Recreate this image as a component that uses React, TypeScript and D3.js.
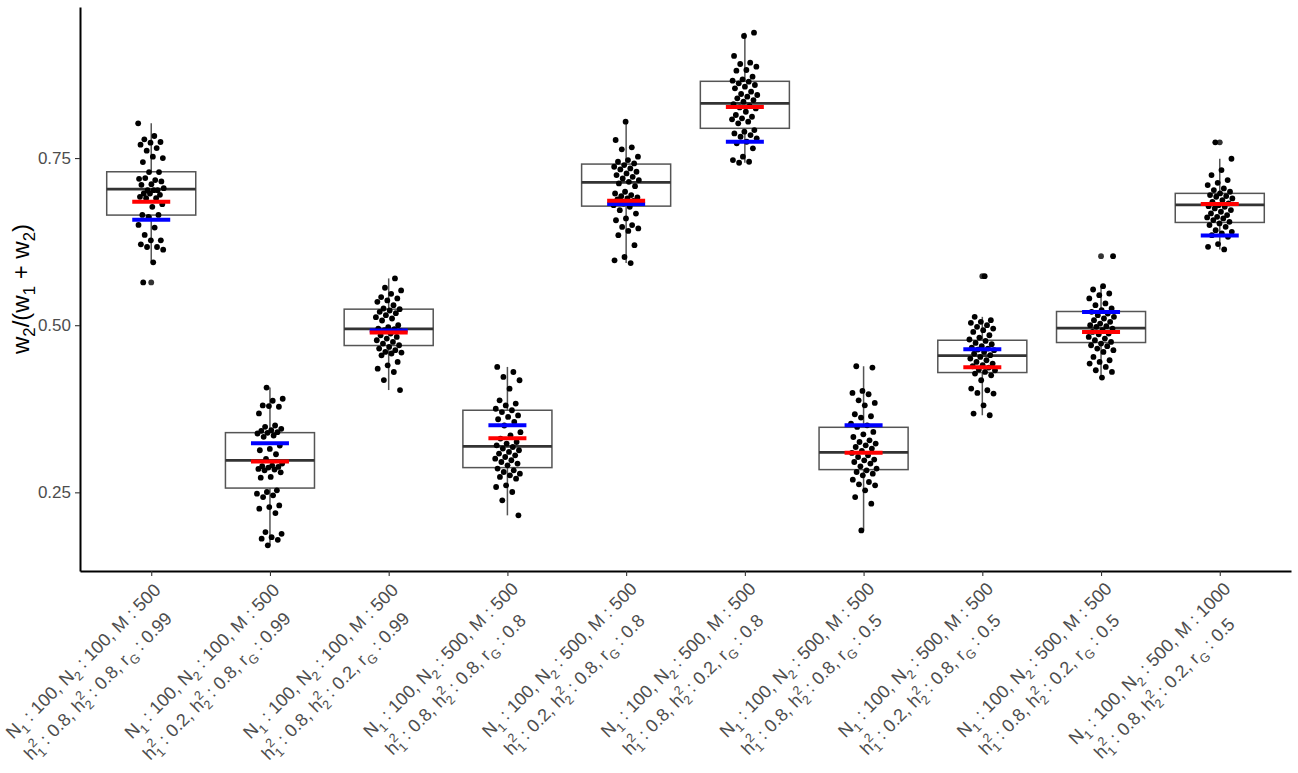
import React, { useEffect, useRef } from "react";
import * as d3 from "d3";

// Scenario descriptors shown on the x axis (two lines per scenario)
const n1 = [100, 100, 100, 100, 100, 100, 100, 100, 100, 100];
const n2 = [100, 100, 100, 500, 500, 500, 500, 500, 500, 500];
const mSize = [500, 500, 500, 500, 500, 500, 500, 500, 500, 1000];
const h1sq = ["0.8", "0.2", "0.8", "0.8", "0.2", "0.8", "0.8", "0.2", "0.8", "0.8"];
const h2sq = ["0.8", "0.8", "0.2", "0.8", "0.8", "0.2", "0.8", "0.8", "0.2", "0.2"];
const rG = ["0.99", "0.99", "0.99", "0.8", "0.8", "0.8", "0.5", "0.5", "0.5", "0.5"];

// Replicate estimates of w2/(w1+w2) per scenario
const pts1 = [0.802, 0.783, 0.778, 0.774, 0.773, 0.77, 0.765, 0.761, 0.75, 0.752, 0.744, 0.729, 0.729, 0.719, 0.717, 0.72, 0.715, 0.711, 0.71, 0.702, 0.702, 0.705, 0.702, 0.697, 0.695, 0.697, 0.692, 0.69, 0.69, 0.681, 0.677, 0.665, 0.665, 0.662, 0.65, 0.646, 0.635, 0.627, 0.627, 0.621, 0.617, 0.617, 0.613, 0.594, 0.564];
const pts2 = [0.4067, 0.39, 0.387, 0.38, 0.378, 0.379, 0.368, 0.35, 0.348, 0.345, 0.343, 0.342, 0.34, 0.339, 0.338, 0.335, 0.333, 0.32, 0.315, 0.313, 0.307, 0.3, 0.293, 0.29, 0.289, 0.288, 0.287, 0.285, 0.284, 0.283, 0.28, 0.273, 0.272, 0.253, 0.2505, 0.248, 0.2455, 0.243, 0.2305, 0.228, 0.2256, 0.219, 0.1906, 0.188, 0.183, 0.1807, 0.179, 0.1707];
const pts3 = [0.57, 0.556, 0.552, 0.547, 0.542, 0.54, 0.537, 0.535, 0.53, 0.525, 0.524, 0.522, 0.52, 0.518, 0.515, 0.512, 0.51, 0.507, 0.5, 0.497, 0.495, 0.494, 0.4925, 0.491, 0.4875, 0.485, 0.4825, 0.48, 0.4775, 0.475, 0.4725, 0.47, 0.4675, 0.465, 0.4626, 0.46, 0.459, 0.4577, 0.455, 0.445, 0.44, 0.435, 0.43, 0.418, 0.403];
const pts4 = [0.4376, 0.43, 0.4226, 0.4177, 0.405, 0.3877, 0.3828, 0.38, 0.375, 0.3728, 0.37, 0.365, 0.3628, 0.3593, 0.3553, 0.35, 0.34, 0.3353, 0.3304, 0.3253, 0.323, 0.3204, 0.3178, 0.3154, 0.313, 0.3104, 0.308, 0.3054, 0.3029, 0.3004, 0.298, 0.2954, 0.293, 0.2904, 0.2855, 0.283, 0.2804, 0.278, 0.2754, 0.273, 0.2705, 0.2605, 0.258, 0.2505, 0.238, 0.2156];
const pts5 = [0.8044, 0.777, 0.766, 0.763, 0.752, 0.747, 0.7445, 0.742, 0.7395, 0.737, 0.7345, 0.733, 0.7295, 0.727, 0.7245, 0.722, 0.7195, 0.717, 0.7145, 0.712, 0.708, 0.6996, 0.697, 0.6946, 0.693, 0.691, 0.6896, 0.688, 0.686, 0.682, 0.6796, 0.677, 0.672, 0.667, 0.6597, 0.657, 0.6497, 0.647, 0.6447, 0.641, 0.6347, 0.6197, 0.602, 0.597, 0.593];
const pts6 = [0.9376, 0.9326, 0.9027, 0.8927, 0.8907, 0.8867, 0.8817, 0.8807, 0.8717, 0.8678, 0.8657, 0.8642, 0.8618, 0.8593, 0.8568, 0.8543, 0.8493, 0.8458, 0.8443, 0.8418, 0.8393, 0.8368, 0.8343, 0.8308, 0.8278, 0.8258, 0.8243, 0.8193, 0.8144, 0.8118, 0.8094, 0.8079, 0.8044, 0.8019, 0.7919, 0.7894, 0.7869, 0.7844, 0.7819, 0.7795, 0.7744, 0.772, 0.7645, 0.752, 0.747, 0.7445, 0.743];
const pts7 = [0.4386, 0.4366, 0.4017, 0.3987, 0.3967, 0.3877, 0.3837, 0.3802, 0.3668, 0.3638, 0.3618, 0.3528, 0.3503, 0.3478, 0.3403, 0.3368, 0.3328, 0.3278, 0.3253, 0.3229, 0.3204, 0.3178, 0.3154, 0.3119, 0.3089, 0.3054, 0.3029, 0.299, 0.2979, 0.2954, 0.293, 0.2889, 0.2855, 0.2829, 0.2804, 0.278, 0.2754, 0.269, 0.2655, 0.262, 0.2605, 0.253, 0.243, 0.233, 0.1931];
const pts8 = [0.5734, 0.5125, 0.5075, 0.505, 0.5035, 0.5, 0.4975, 0.495, 0.4925, 0.49, 0.485, 0.4815, 0.4786, 0.4765, 0.4735, 0.4716, 0.4686, 0.4666, 0.4651, 0.4636, 0.4626, 0.46, 0.4576, 0.4551, 0.4526, 0.4501, 0.4476, 0.4451, 0.4426, 0.4401, 0.4386, 0.4366, 0.4336, 0.4326, 0.4301, 0.4277, 0.4251, 0.4177, 0.4052, 0.4027, 0.3987, 0.3977, 0.3802, 0.3678, 0.3653];
const pts9 = [0.6033, 0.5584, 0.5534, 0.5474, 0.5449, 0.54, 0.5325, 0.53, 0.525, 0.5225, 0.52, 0.5175, 0.515, 0.5125, 0.51, 0.5075, 0.505, 0.5025, 0.5, 0.4985, 0.4975, 0.495, 0.4925, 0.49, 0.4875, 0.4865, 0.4825, 0.48, 0.4775, 0.475, 0.4725, 0.47, 0.4686, 0.4651, 0.4626, 0.46, 0.4526, 0.4476, 0.4451, 0.4426, 0.4376, 0.4326, 0.4301, 0.4217];
const pts10 = [0.7735, 0.749, 0.732, 0.7245, 0.717, 0.713, 0.7096, 0.7046, 0.7021, 0.6996, 0.6971, 0.6946, 0.6931, 0.6921, 0.6896, 0.6871, 0.6846, 0.6822, 0.6796, 0.6781, 0.6771, 0.6747, 0.6722, 0.6697, 0.6672, 0.6647, 0.6621, 0.6612, 0.6597, 0.6572, 0.6547, 0.6522, 0.6497, 0.6472, 0.6422, 0.6397, 0.6373, 0.6347, 0.6322, 0.6213, 0.6172, 0.6133];

// Box summaries per scenario
const q1 = [0.6647, 0.2564, 0.4696, 0.287, 0.6781, 0.7945, 0.284, 0.4292, 0.4741, 0.6537];
const med = [0.7036, 0.2979, 0.4945, 0.3189, 0.7136, 0.8319, 0.3099, 0.4546, 0.4955, 0.6801];
const q3 = [0.7295, 0.3393, 0.524, 0.3728, 0.741, 0.8648, 0.3473, 0.4775, 0.5205, 0.6972];

// Reference values marked with coloured bars
const redRef = [0.6846, 0.296, 0.4891, 0.3308, 0.6861, 0.8263, 0.3094, 0.4371, 0.49, 0.6811];
const blueRef = [0.6576, 0.3234, 0.4921, 0.3503, 0.6811, 0.7744, 0.3503, 0.4641, 0.5199, 0.6343];

const yTicks = [0.25, 0.5, 0.75];

const W = 1298;
const H = 773;
const FONT = "'Liberation Sans', Arial, Helvetica, sans-serif";

export default function App() {
  const ref = useRef<SVGSVGElement | null>(null);

  useEffect(() => {
    const svg = d3.select(ref.current);
    svg.selectAll("*").remove();

    const groups = [pts1, pts2, pts3, pts4, pts5, pts6, pts7, pts8, pts9, pts10];
    const left = 80, right = 1291, top = 7, bottom = 571;

    const x = d3.scaleLinear().domain([0.4, groups.length + 0.6]).range([left, right]);
    const all = groups.flat();
    const [mn, mx] = d3.extent(all) as [number, number];
    const pad = (mx - mn) * 0.05;
    const y = d3.scaleLinear().domain([mn - pad, mx + pad]).range([bottom, top]);

    const boxHalf = 0.375;
    const refHalf = 0.16;
    const jitterHalf = 0.11;
    const boxStroke = "#555555";
    const dotR = 2.9;

    const plot = svg.append("g");

    groups.forEach((vals, gi) => {
      const cx = gi + 1;
      const iqr = q3[gi] - q1[gi];
      const loFence = q1[gi] - 1.5 * iqr;
      const hiFence = q3[gi] + 1.5 * iqr;
      const inside = vals.filter((v) => v >= loFence && v <= hiFence);
      const wLo = d3.min(inside) as number;
      const wHi = d3.max(inside) as number;
      const outliers = vals.filter((v) => v < loFence || v > hiFence);

      const g = plot.append("g");
      // whiskers
      g.append("line")
        .attr("x1", x(cx)).attr("x2", x(cx))
        .attr("y1", y(q3[gi])).attr("y2", y(wHi))
        .attr("stroke", boxStroke).attr("stroke-width", 1.5);
      g.append("line")
        .attr("x1", x(cx)).attr("x2", x(cx))
        .attr("y1", y(q1[gi])).attr("y2", y(wLo))
        .attr("stroke", boxStroke).attr("stroke-width", 1.5);
      // box
      g.append("rect")
        .attr("x", x(cx - boxHalf))
        .attr("width", x(cx + boxHalf) - x(cx - boxHalf))
        .attr("y", y(q3[gi]))
        .attr("height", y(q1[gi]) - y(q3[gi]))
        .attr("fill", "white")
        .attr("stroke", boxStroke)
        .attr("stroke-width", 1.5);
      // median
      g.append("line")
        .attr("x1", x(cx - boxHalf)).attr("x2", x(cx + boxHalf))
        .attr("y1", y(med[gi])).attr("y2", y(med[gi]))
        .attr("stroke", "#333333").attr("stroke-width", 2.8);
      // boxplot outliers at the box centre
      g.selectAll("circle.out")
        .data(outliers)
        .join("circle")
        .attr("class", "out")
        .attr("cx", x(cx))
        .attr("cy", (v) => y(v))
        .attr("r", dotR)
        .attr("fill", "#333333");
      // jittered replicate points (low-discrepancy offsets)
      g.selectAll("circle.pt")
        .data(vals)
        .join("circle")
        .attr("class", "pt")
        .attr("cx", (_v, i) => {
          const u = ((i * 0.6180339887 + gi * 0.37) % 1) - 0.5;
          return x(cx + u * 2 * jitterHalf);
        })
        .attr("cy", (v) => y(v))
        .attr("r", dotR)
        .attr("fill", "black");
      // reference bars
      g.append("line")
        .attr("x1", x(cx - refHalf)).attr("x2", x(cx + refHalf))
        .attr("y1", y(blueRef[gi])).attr("y2", y(blueRef[gi]))
        .attr("stroke", "#0000ff").attr("stroke-width", 4);
      g.append("line")
        .attr("x1", x(cx - refHalf)).attr("x2", x(cx + refHalf))
        .attr("y1", y(redRef[gi])).attr("y2", y(redRef[gi]))
        .attr("stroke", "#ff0000").attr("stroke-width", 4);
    });

    // y axis
    const yAxis = svg.append("g")
      .attr("transform", `translate(${left},0)`)
      .call(
        d3.axisLeft(y)
          .tickValues(yTicks)
          .tickFormat(d3.format(".2f"))
          .tickSize(5)
          .tickSizeOuter(0)
          .tickPadding(4)
      );
    yAxis.select(".domain").attr("stroke", "black").attr("stroke-width", 2);
    yAxis.selectAll(".tick line").attr("stroke", "#333333").attr("stroke-width", 1.1);
    yAxis.selectAll(".tick text")
      .attr("fill", "#4d4d4d")
      .style("font-family", FONT)
      .style("font-size", "17px");

    // x axis
    const xAxis = svg.append("g")
      .attr("transform", `translate(0,${bottom})`)
      .call(
        d3.axisBottom(x)
          .tickValues(d3.range(1, groups.length + 1))
          .tickFormat(() => "")
          .tickSize(5)
          .tickSizeOuter(0)
      );
    xAxis.select(".domain").attr("stroke", "black").attr("stroke-width", 2);
    xAxis.selectAll(".tick line").attr("stroke", "#333333").attr("stroke-width", 1.1);

    // rotated two-line scenario labels
    const fs = 18;
    const small = fs * 0.7;
    const subDy = fs * 0.3;
    const oneW = 0.556 * small;
    const lineGap = 28;
    groups.forEach((_vals, gi) => {
      const lg = svg.append("g")
        .attr("transform", `translate(${x(gi + 1) + 2},${bottom + 9}) rotate(-45)`)
        .style("font-family", FONT)
        .style("font-size", `${fs}px`)
        .attr("fill", "#4d4d4d");

      const t1 = lg.append("text").attr("y", 14);
      const addSubbed = (t: any, base: string, sub: string, rest: string) => {
        t.append("tspan").text(base);
        t.append("tspan").attr("dy", subDy).style("font-size", `${small}px`).text(sub);
        t.append("tspan").attr("dy", -subDy).text(rest);
      };
      addSubbed(t1, "N", "1", ` : ${n1[gi]}, `);
      addSubbed(t1, "N", "2", ` : ${n2[gi]}, `);
      t1.append("tspan").text(`M : ${mSize[gi]}`);

      const t2 = lg.append("text").attr("y", 14 + lineGap);
      const addSubSup = (t: any, base: string, sub: string, sup: string, rest: string) => {
        t.append("tspan").text(base);
        t.append("tspan").attr("dy", subDy).style("font-size", `${small}px`).text(sub);
        t.append("tspan").attr("dx", -oneW).attr("dy", -subDy - fs * 0.45).style("font-size", `${small}px`).text(sup);
        t.append("tspan").attr("dy", fs * 0.45).text(rest);
      };
      addSubSup(t2, "h", "1", "2", ` : ${h1sq[gi]}, `);
      addSubSup(t2, "h", "2", "2", ` : ${h2sq[gi]}, `);
      addSubbed(t2, "r", "G", ` : ${rG[gi]}`);

      const w1 = (t1.node() as SVGTextElement).getComputedTextLength();
      const w2 = (t2.node() as SVGTextElement).getComputedTextLength();
      const wMax = Math.max(w1, w2);
      t1.attr("x", -wMax / 2 - w1 / 2);
      t2.attr("x", -wMax / 2 - w2 / 2);
    });

    // y axis title
    const tf = 24;
    const yt = svg.append("text")
      .attr("transform", `translate(29,${(top + bottom) / 2}) rotate(-90)`)
      .attr("text-anchor", "middle")
      .attr("fill", "black")
      .style("font-family", FONT)
      .style("font-size", `${tf}px`);
    const ts = tf * 0.7;
    const sd = tf * 0.25;
    yt.append("tspan").text("w");
    yt.append("tspan").attr("dy", sd).style("font-size", `${ts}px`).text("2");
    yt.append("tspan").attr("dy", -sd).text("/(w");
    yt.append("tspan").attr("dy", sd).style("font-size", `${ts}px`).text("1");
    yt.append("tspan").attr("dy", -sd).text(" + w");
    yt.append("tspan").attr("dy", sd).style("font-size", `${ts}px`).text("2");
    yt.append("tspan").attr("dy", -sd).text(")");
  }, []);

  return (
    <svg
      ref={ref}
      width={W}
      height={H}
      style={{ position: "absolute", left: 0, top: 0, display: "block", background: "white" }}
    />
  );
}
